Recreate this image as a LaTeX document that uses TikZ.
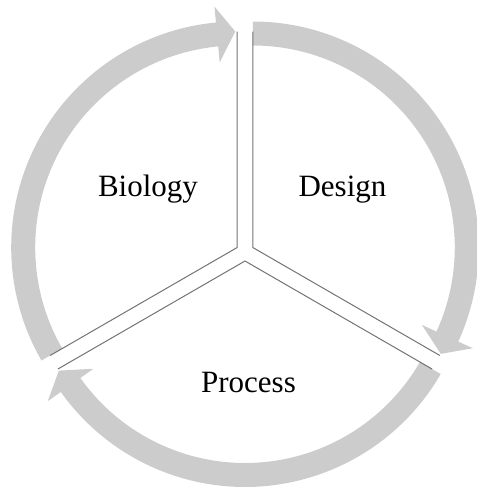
\documentclass[tikz,border=0pt]{standalone}
\usepackage{fontspec}
\setmainfont{Liberation Serif}
\usetikzlibrary{calc}

\tikzset{
  cyclearrow/.style={fill=black!20, draw=none},
  rimline/.style={draw=black!55, line width=1pt},
  sectortext/.style={font=\fontsize{31}{37}\selectfont, anchor=base, inner sep=0pt}
}

\begin{document}
\begin{tikzpicture}[x=1pt, y=1pt]
\useasboundingbox (-245,-236) rectangle (232,252);

% tip of each segment, pushed out a little from the middle
\coordinate (apexB) at (150:9);
\coordinate (apexD) at (30:9);
\coordinate (apexP) at (270:9);

% curved arrows round the rim, all running clockwise
\fill[cyclearrow] ($(apexB)+(210:202)$) arc[start angle=210, end angle=95.4, radius=202pt] -- ($(apexB)+(95.4:186)$) -- ($(apexB)+(90.5:216)$) -- ($(apexB)+(95.4:242)$) -- ($(apexB)+(95.4:226)$) arc[start angle=95.4, end angle=210, radius=226pt] -- cycle;
\fill[cyclearrow] ($(apexD)+(90:202)$) arc[start angle=90, end angle=-24.6, radius=202pt] -- ($(apexD)+(-24.6:186)$) -- ($(apexD)+(-29.5:216)$) -- ($(apexD)+(-24.6:242)$) -- ($(apexD)+(-24.6:226)$) arc[start angle=-24.6, end angle=90, radius=226pt] -- cycle;
\fill[cyclearrow] ($(apexP)+(330:202)$) arc[start angle=330, end angle=215.4, radius=202pt] -- ($(apexP)+(215.4:186)$) -- ($(apexP)+(210.5:216)$) -- ($(apexP)+(215.4:242)$) -- ($(apexP)+(215.4:226)$) arc[start angle=215.4, end angle=330, radius=226pt] -- cycle;

% straight edges of the segments
\draw[rimline] ($(apexB)+(90:216)$) -- (apexB) -- ($(apexB)+(210:216)$);
\draw[rimline] ($(apexD)+(90:216)$) -- (apexD) -- ($(apexD)+(-30:216)$);
\draw[rimline] ($(apexP)+(330:216)$) -- (apexP) -- ($(apexP)+(210:216)$);

\node[sectortext] (bio) at (-97,56) {Biology};
\node[sectortext] (des) at (97.5,56) {Design};
\node[sectortext] (pro) at (3.5,-140) {Process};
\end{tikzpicture}
\end{document}
